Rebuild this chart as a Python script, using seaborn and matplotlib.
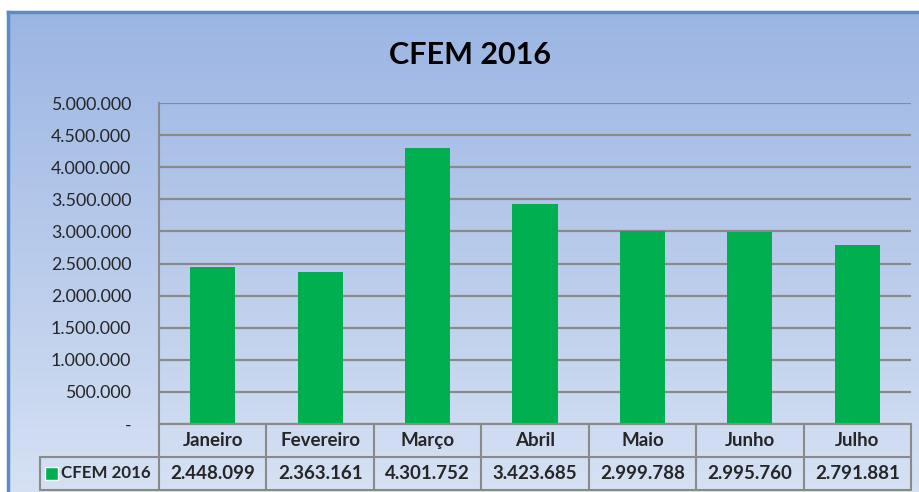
import numpy as np
import pandas as pd
import matplotlib
matplotlib.use('Agg')
import matplotlib.pyplot as plt
import matplotlib.transforms as mtransforms
from matplotlib.patches import Rectangle
import seaborn as sns

# data
meses = ['Janeiro', 'Fevereiro', 'Março', 'Abril', 'Maio', 'Junho', 'Julho']
valores = [2448099, 2363161, 4301752, 3423685, 2999788, 2995760, 2791881]
yticks = [0, 500000, 1000000, 1500000, 2000000, 2500000, 3000000,
          3500000, 4000000, 4500000, 5000000]
serie = 'CFEM 2016'

df = pd.DataFrame({'mes': meses, 'valor': valores})


def fmt_br(v):
    return f'{v:,.0f}'.replace(',', '.')


sns.set_style('white')
plt.rcParams['font.family'] = ['Lato', 'DejaVu Sans']

W, H = 919, 492
fig = plt.figure(figsize=(W / 100, H / 100), dpi=100)


def px(x0, y0, x1, y1):
    return [x0 / W, 1 - y1 / H, (x1 - x0) / W, (y1 - y0) / H]


# background panel with gradient
bg = fig.add_axes(px(8, 12, W + 2, H + 2))
grad = np.linspace(0, 1, 256).reshape(-1, 1)
top = np.array([155, 181, 227]) / 255
bot = np.array([214, 225, 243]) / 255
img = top + (bot - top) * grad[..., None]
bg.imshow(img, aspect='auto', extent=[0, 1, 0, 1])
bg.set_xticks([])
bg.set_yticks([])
for s in bg.spines.values():
    s.set_color('#5B8BC9')
    s.set_linewidth(2.5)

fig.text(470 / W, 1 - 55 / H, 'CFEM 2016', ha='center', va='center',
         fontsize=22, fontweight='bold', color='black')

# plot area
ax = fig.add_axes(px(159, 103, 911, 424))
ax.patch.set_alpha(0)
sns.barplot(data=df, x='mes', y='valor', color='#00B050', width=0.42,
            saturation=1, linewidth=0, ax=ax, zorder=3)
ax.set_xlim(-0.5, len(meses) - 0.5)
ax.set_ylim(0, 5000000)
ax.set_yticks(yticks)
ax.set_yticklabels(['-'] + [fmt_br(t) for t in yticks[1:]], fontsize=12.8)
ax.tick_params(axis='y', length=0, pad=20)
ax.set_xticks([])
ax.set_xlabel('')
ax.set_ylabel('')
ax.grid(axis='y', color='#8A8A8A', linewidth=1.6, zorder=1)
for k in ['top', 'right', 'bottom']:
    ax.spines[k].set_visible(False)
ax.spines['left'].set_color('#8A8A8A')
ax.spines['left'].set_linewidth(1.5)

# data table under the axis
trans = mtransforms.blended_transform_factory(ax.transData, ax.transAxes)
unit = (911 - 159) / len(meses)
xl = -0.5 - (159 - 40) / unit
xr = len(meses) - 0.5
r1 = -33 / 321
r2 = -66 / 321
lc = '#8A8A8A'
kw = dict(color=lc, linewidth=1.5, transform=trans, clip_on=False, zorder=5)
ax.plot([-0.5, xr], [0, 0], **kw)
ax.plot([xl, xr], [r1, r1], **kw)
ax.plot([xl, xr], [r2, r2], **kw)
ax.plot([xl, xl], [r1, r2], **kw)
for i in range(len(meses) + 1):
    ax.plot([i - 0.5, i - 0.5], [0, r2], **kw)
tfs = 13.5
for i, (m, v) in enumerate(zip(meses, valores)):
    ax.text(i, r1 / 2, m, transform=trans, ha='center', va='center',
            fontsize=tfs, fontweight='bold')
    ax.text(i, (r1 + r2) / 2, fmt_br(v), transform=trans, ha='center',
            va='center', fontsize=tfs, fontweight='bold')
sq = 13 / unit
ax.add_patch(Rectangle((xl + 5 / unit, (r1 + r2) / 2 - 6.5 / 321), sq, 13 / 321,
                       facecolor='#00B050', transform=trans, clip_on=False, zorder=5))
ax.text(xl + 21 / unit, (r1 + r2) / 2, serie, transform=trans, ha='left',
        va='center', fontsize=12.2, fontweight='bold')

fig.savefig('out.png', dpi=100, facecolor='white')
